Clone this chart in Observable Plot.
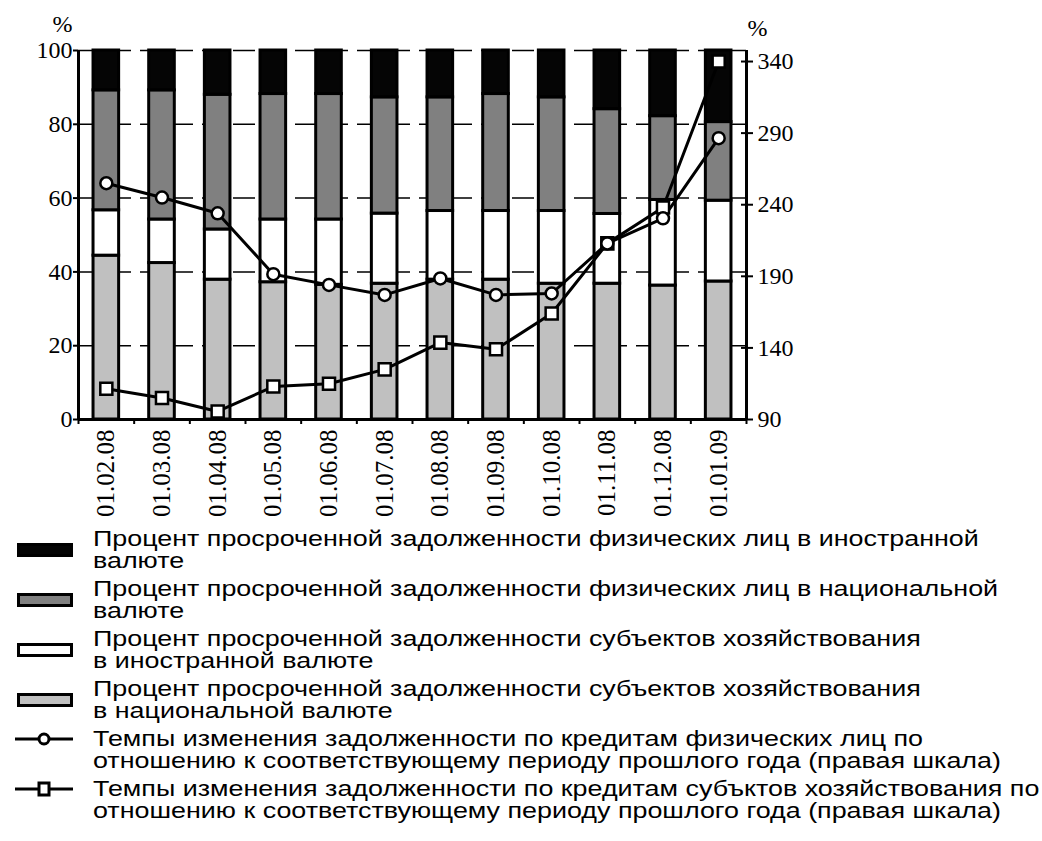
<!DOCTYPE html>
<html><head><meta charset="utf-8">
<script src="https://cdn.jsdelivr.net/npm/d3@7"></script>
<script src="https://cdn.jsdelivr.net/npm/@observablehq/plot@0.6"></script>
<style>
body{margin:0;background:#fff;width:1042px;height:841px;position:relative;overflow:hidden}
#chart{position:absolute;left:0;top:0}
#chart svg text{font-family:"Liberation Serif","Times New Roman",serif !important}
#legend{position:absolute;left:0;top:528px;font-family:"Liberation Sans",Arial,sans-serif;font-size:21.5px;color:#000}
.entry{display:flex;align-items:center;line-height:22px;margin-bottom:6px}
.entry.ln{align-items:flex-start}
.sw{width:56px;height:14px;box-sizing:border-box;border:3px solid #000;margin-left:17px;margin-right:20px;flex:none}
.sym{margin-left:14px;margin-right:19px;flex:none}
.txt{white-space:nowrap;transform:scaleX(1.25);transform-origin:0 50%}
</style></head>
<body><div id="chart"></div><div id="legend"></div>
<script>
// ---- data ----
const dates = ["01.02.08","01.03.08","01.04.08","01.05.08","01.06.08","01.07.08","01.08.08","01.09.08","01.10.08","01.11.08","01.12.08","01.01.09"];
// shares of overdue debt, % (stacked bottom to top)
const corpNational    = [44.4, 42.4, 37.9, 37.2, 36.5, 36.8, 37.9, 37.9, 36.8, 36.8, 36.3, 37.4];
const corpForeign     = [12.3, 11.8, 13.6, 17.0, 17.7, 19.0, 18.6, 18.6, 19.7, 18.9, 23.2, 21.9];
const personsNational = [32.5, 35.0, 36.5, 34.0, 34.0, 31.5, 30.8, 31.7, 30.8, 28.4, 22.7, 21.3];
const personsForeign  = [10.8, 10.8, 12.0, 11.8, 11.8, 12.7, 12.7, 11.8, 12.7, 15.9, 17.8, 19.4];
// growth rates, % (right scale)
const personsGrowth = [255, 245, 234, 191.5, 184, 177, 188.5, 177, 178, 213, 230.5, 286.5];
const corpGrowth    = [111.5, 105, 95.6, 113, 115, 125, 143.7, 139, 164, 213, 238, 340];
const leftTicks  = [0, 20, 40, 60, 80, 100];
const rightTicks = [90, 140, 190, 240, 290, 340];
const legendLabels = [
  ["Процент просроченной задолженности физических лиц в иностранной","валюте"],
  ["Процент просроченной задолженности физических лиц в национальной","валюте"],
  ["Процент просроченной задолженности субъектов хозяйствования","в иностранной валюте"],
  ["Процент просроченной задолженности субъектов хозяйствования","в национальной валюте"],
  ["Темпы изменения задолженности по кредитам физических лиц по","отношению к соответствующему периоду прошлого года (правая шкала)"],
  ["Темпы изменения задолженности по кредитам субъктов хозяйствования по","отношению к соответствующему периоду прошлого года (правая шкала)"]
];

// ---- build ----
const serif = "Liberation Serif";
const series = [
  {values: corpNational, fill: "#c0c0c0"},
  {values: corpForeign, fill: "#ffffff"},
  {values: personsNational, fill: "#808080"},
  {values: personsForeign, fill: "#050505"}
];
const k = 2.577; // right-scale units per left-scale unit
const toLeft = v => (v - 90) / k;
const fromLeft = d => d * k + 90;

const rows = [];
dates.forEach((d, i) => {
  let base = 0;
  for (const s of series) {
    rows.push({i, fill: s.fill, y1: base, y2: base + s.values[i]});
    base += s.values[i];
  }
});
const pG = dates.map((d, i) => ({i, v: personsGrowth[i]}));
const cG = dates.map((d, i) => ({i, v: corpGrowth[i]}));
const idx = dates.map((d, i) => i);
const bounds = d3.range(0, dates.length + 1).map(j => j - 0.5);

const chart = Plot.plot({
  width: 1042, height: 525,
  marginLeft: 78, marginRight: 296, marginTop: 50, marginBottom: 106,
  style: {fontFamily: serif, fontSize: "24px", color: "#000", background: "transparent"},
  x: {type: "linear", domain: [-0.5, dates.length - 0.5]},
  y: {domain: [0, 100]},
  color: {type: "identity"},
  marks: [
    Plot.ruleY(leftTicks.filter(t => t > 0), {stroke: "#000", strokeWidth: 1.5, strokeDasharray: "22,9"}),
    Plot.rectY(rows, {x1: d => d.i - 0.23, x2: d => d.i + 0.23, y1: "y1", y2: "y2", fill: "fill", stroke: "#000", strokeWidth: 3}),
    Plot.ruleX([bounds[0], bounds[bounds.length - 1]], {stroke: "#000", strokeWidth: 3}),
    Plot.ruleY([0], {stroke: "#000", strokeWidth: 3}),
    Plot.axisY(leftTicks, {anchor: "left", tickSize: 5, tickPadding: 1, strokeWidth: 2, label: null, fontSize: 24, fontFamily: serif}),
    Plot.axisY(rightTicks.map(toLeft), {anchor: "right", tickSize: 6, tickPadding: 5, strokeWidth: 2, label: null, fontSize: 24, fontFamily: serif, tickFormat: d => Math.round(fromLeft(d))}),
    Plot.axisY(rightTicks.map(toLeft), {anchor: "right", tickSize: -6, strokeWidth: 2, label: null, tickFormat: () => ""}),
    Plot.axisX(bounds, {tickSize: 5, strokeWidth: 2, label: null, tickFormat: () => ""}),
    Plot.axisX(idx, {tickSize: 0, tickPadding: 10, tickRotate: -90, label: null, fontSize: 25, fontFamily: serif, tickFormat: i => dates[i]}),
    Plot.line(cG, {x: "i", y: d => toLeft(d.v), stroke: "#000", strokeWidth: 3}),
    Plot.line(pG, {x: "i", y: d => toLeft(d.v), stroke: "#000", strokeWidth: 3}),
    Plot.dot(cG, {x: "i", y: d => toLeft(d.v), symbol: "square", r: 6.8, fill: "#fff", stroke: "#000", strokeWidth: 2.5}),
    Plot.dot(pG, {x: "i", y: d => toLeft(d.v), symbol: "circle", r: 6, fill: "#fff", stroke: "#000", strokeWidth: 2.5}),
    Plot.text(["%"], {text: d => d, frameAnchor: "top-left", lineAnchor: "middle", dx: -26, dy: -26, fontSize: 24, fontFamily: serif}),
    Plot.text(["%"], {text: d => d, frameAnchor: "top-right", lineAnchor: "middle", dx: 21, dy: -22, fontSize: 24, fontFamily: serif})
  ]
});
document.getElementById("chart").appendChild(chart);

// ---- legend ----
const legend = document.getElementById("legend");
const swFills = ["#050505", "#808080", "#ffffff", "#c0c0c0"];
legendLabels.forEach((lab, j) => {
  const e = document.createElement("div");
  e.className = "entry" + (j >= 4 ? " ln" : "");
  if (j < 4) {
    const s = document.createElement("div");
    s.className = "sw";
    s.style.background = swFills[j];
    e.appendChild(s);
  } else {
    const ns = "http://www.w3.org/2000/svg";
    const svg = document.createElementNS(ns, "svg");
    svg.setAttribute("width", 60); svg.setAttribute("height", 22);
    svg.setAttribute("class", "sym");
    const l = document.createElementNS(ns, "line");
    l.setAttribute("x1", 1); l.setAttribute("x2", 59); l.setAttribute("y1", 11); l.setAttribute("y2", 11);
    l.setAttribute("stroke", "#000"); l.setAttribute("stroke-width", 3);
    svg.appendChild(l);
    let m;
    if (j === 4) {
      m = document.createElementNS(ns, "circle");
      m.setAttribute("cx", 30); m.setAttribute("cy", 11); m.setAttribute("r", 5);
    } else {
      m = document.createElementNS(ns, "rect");
      m.setAttribute("x", 25); m.setAttribute("y", 5); m.setAttribute("width", 10); m.setAttribute("height", 12);
    }
    m.setAttribute("fill", "#fff"); m.setAttribute("stroke", "#000"); m.setAttribute("stroke-width", 3);
    svg.appendChild(m);
    e.appendChild(svg);
  }
  const t = document.createElement("div");
  t.className = "txt";
  t.innerHTML = lab[0] + "<br>" + lab[1];
  e.appendChild(t);
  legend.appendChild(e);
});
</script>
</body></html>
